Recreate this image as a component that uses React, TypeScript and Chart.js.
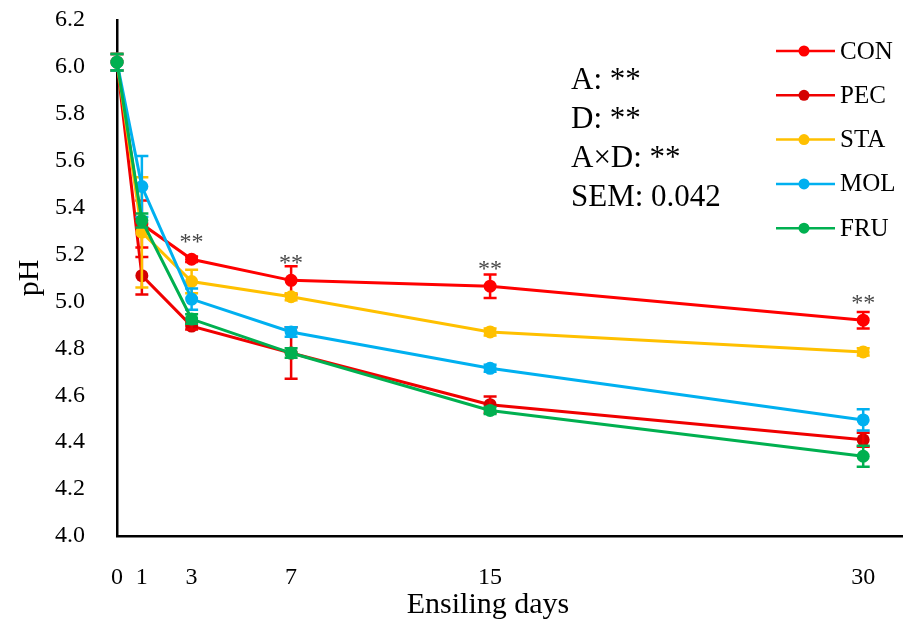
import React, { useEffect, useRef } from 'react';
import { Chart, registerables } from 'chart.js';

Chart.register(...registerables);

const days = [0, 1, 3, 7, 15, 30];
const xTickValues = [0, 1, 3, 7, 15, 30];
const yMin = 4.0;
const yMax = 6.2;
const yStep = 0.2;

const seriesNames = ['CON', 'PEC', 'STA', 'MOL', 'FRU'];
const conValues = [6.02, 5.33, 5.18, 5.09, 5.065, 4.92];
const conErrors = [0.035, 0.1, 0.012, 0.06, 0.05, 0.035];
const pecValues = [6.02, 5.11, 4.895, 4.78, 4.56, 4.41];
const pecErrors = [0.035, 0.08, 0.015, 0.11, 0.035, 0.03];
const staValues = [6.02, 5.295, 5.085, 5.02, 4.87, 4.785];
const staErrors = [0.035, 0.235, 0.05, 0.015, 0.015, 0.015];
const molValues = [6.02, 5.49, 5.01, 4.87, 4.715, 4.495];
const molErrors = [0.035, 0.13, 0.045, 0.02, 0.015, 0.045];
const fruValues = [6.02, 5.345, 4.925, 4.78, 4.535, 4.34];
const fruErrors = [0.035, 0.03, 0.02, 0.02, 0.015, 0.045];

const lineColors = ['#FF0000', '#F00000', '#FFC000', '#00B0F0', '#00B050'];
const pointColors = ['#FF0000', '#D40000', '#FFC000', '#00B0F0', '#00B050'];

const starDays = [3, 7, 15, 30];
const starLabel = '**';
const statLines = ['A: **', 'D: **', 'A×D: **', 'SEM: 0.042'];
const xTitle = 'Ensiling days';
const yTitle = 'pH';

const FONT = '"Liberation Serif", "Times New Roman", serif';

const errorBarPlugin = {
  id: 'errorBars',
  afterDatasetDraw(chart: any, args: any) {
    const ds = chart.data.datasets[args.index];
    const errs: number[] = ds.errors;
    if (!errs) return;
    const ctx = chart.ctx;
    const ys = chart.scales.y;
    const xs = chart.scales.x;
    ctx.save();
    ctx.strokeStyle = ds.borderColor;
    ctx.lineWidth = 2.5;
    ds.data.forEach((pt: any, i: number) => {
      const x = xs.getPixelForValue(pt.x);
      const yt = ys.getPixelForValue(pt.y + errs[i]);
      const yb = ys.getPixelForValue(pt.y - errs[i]);
      ctx.beginPath();
      ctx.moveTo(x, yt);
      ctx.lineTo(x, yb);
      ctx.moveTo(x - 6.5, yt);
      ctx.lineTo(x + 6.5, yt);
      ctx.moveTo(x - 6.5, yb);
      ctx.lineTo(x + 6.5, yb);
      ctx.stroke();
    });
    ctx.restore();
  },
};

const annotationPlugin = {
  id: 'annotations',
  afterDraw(chart: any) {
    const ctx = chart.ctx;
    const xs = chart.scales.x;
    const ys = chart.scales.y;
    ctx.save();
    // significance stars above CON
    ctx.fillStyle = '#474747';
    ctx.font = `24px ${FONT}`;
    ctx.textAlign = 'center';
    ctx.textBaseline = 'alphabetic';
    starDays.forEach((d) => {
      const idx = days.indexOf(d);
      const x = xs.getPixelForValue(d);
      const y = ys.getPixelForValue(conValues[idx]);
      ctx.fillText(starLabel, x, y - 10);
    });
    // stats block
    ctx.fillStyle = '#000000';
    ctx.font = `31px ${FONT}`;
    ctx.textAlign = 'left';
    ctx.textBaseline = 'middle';
    statLines.forEach((s, i) => {
      ctx.fillText(s, 571, 81 + i * 39);
    });
    // legend
    ctx.font = `25px ${FONT}`;
    seriesNames.forEach((name, i) => {
      const y = 51 + i * 44.3;
      ctx.strokeStyle = lineColors[i];
      ctx.lineWidth = 2.5;
      ctx.beginPath();
      ctx.moveTo(776, y);
      ctx.lineTo(835, y);
      ctx.stroke();
      ctx.fillStyle = pointColors[i];
      ctx.beginPath();
      ctx.arc(804, y, 5.5, 0, Math.PI * 2);
      ctx.fill();
      ctx.fillStyle = '#000000';
      ctx.fillText(name, 840, y + 1);
    });
    // axis titles
    ctx.font = `30px ${FONT}`;
    ctx.textAlign = 'center';
    ctx.textBaseline = 'middle';
    ctx.fillText(xTitle, 488, 605);
    ctx.save();
    ctx.translate(30, 278);
    ctx.rotate(-Math.PI / 2);
    ctx.fillText(yTitle, 0, 0);
    ctx.restore();
    ctx.restore();
  },
};

export default function App() {
  const ref = useRef<HTMLCanvasElement | null>(null);
  useEffect(() => {
    if (!ref.current) return;
    const valueSets = [conValues, pecValues, staValues, molValues, fruValues];
    const errorSets = [conErrors, pecErrors, staErrors, molErrors, fruErrors];
    const datasets = seriesNames.map((name, i) => ({
      label: name,
      data: days.map((d, j) => ({ x: d, y: valueSets[i][j] })),
      errors: errorSets[i],
      order: seriesNames.length - 1 - i,
      borderColor: lineColors[i],
      backgroundColor: pointColors[i],
      pointBackgroundColor: pointColors[i],
      pointBorderColor: pointColors[i],
      pointRadius: 6.5,
      pointBorderWidth: 0,
      borderWidth: 3,
      tension: 0,
      clip: false,
    }));
    const chart = new Chart(ref.current, {
      type: 'line',
      data: { datasets } as any,
      options: {
        animation: false,
        responsive: false,
        devicePixelRatio: 1,
        layout: { autoPadding: false, padding: { top: 20, right: 0, left: 0, bottom: 0 } },
        plugins: { legend: { display: false }, tooltip: { enabled: false } },
        scales: {
          x: {
            type: 'linear',
            min: 0,
            max: 31.6,
            grid: { display: false },
            border: { display: true, color: '#000000', width: 2.5 },
            afterBuildTicks: (scale: any) => {
              scale.ticks = xTickValues.map((v) => ({ value: v }));
            },
            afterFit: (scale: any) => {
              scale.height = 88;
              scale.paddingLeft = 0;
              scale.paddingRight = 0;
            },
            ticks: {
              color: '#000000',
              font: { family: FONT, size: 24 },
              padding: 19,
              maxRotation: 0,
              autoSkip: false,
              callback: (v: any) => String(v),
            },
          },
          y: {
            type: 'linear',
            min: yMin,
            max: yMax,
            grid: { display: false },
            border: { display: true, color: '#000000', width: 2.5 },
            afterFit: (scale: any) => {
              scale.width = 117;
              scale.paddingTop = 0;
              scale.paddingBottom = 0;
            },
            ticks: {
              stepSize: yStep,
              color: '#000000',
              font: { family: FONT, size: 24 },
              padding: 24,
              callback: (v: any) => Number(v).toFixed(1),
            },
          },
        },
      },
      plugins: [errorBarPlugin, annotationPlugin],
    } as any);
    return () => chart.destroy();
  }, []);
  return (
    <div style={{ position: 'absolute', left: 0, top: 0, width: 903, height: 624, background: '#fff' }}>
      <canvas ref={ref} width={903} height={624} style={{ width: 903, height: 624, display: 'block' }} />
    </div>
  );
}
